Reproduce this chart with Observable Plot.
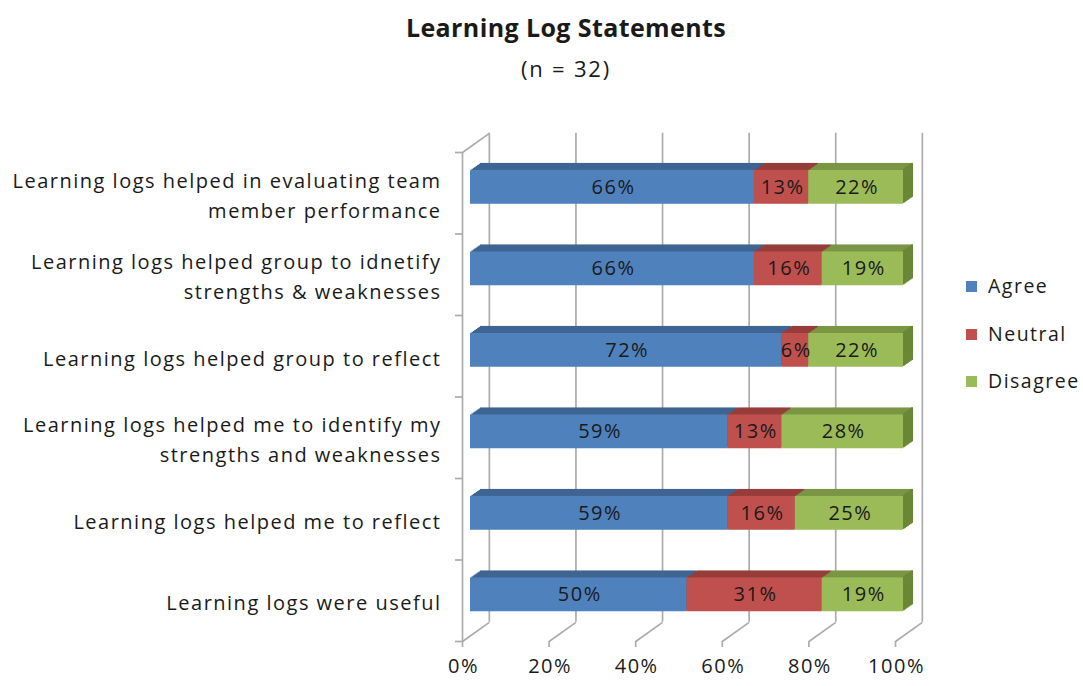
<!DOCTYPE html>
<html>
<head>
<meta charset="utf-8">
<script src="https://cdn.jsdelivr.net/npm/d3@7"></script>
<script src="https://cdn.jsdelivr.net/npm/@observablehq/plot@0.6"></script>
<style>
  body { margin: 0; background: #fff; font-family: "Open Sans", sans-serif; color: #1a1a1a; }
  #wrap { position: relative; width: 1083px; height: 686px; overflow: hidden; }
  #head { height: 100px; position: relative; }
  #title { position: absolute; left: 566px; top: 10px; transform: translateX(-50%); font-weight: bold; font-size: 25px; letter-spacing: 0.4px; white-space: nowrap; }
  #sub { position: absolute; left: 566px; top: 53px; transform: translateX(-50%); font-size: 22px; letter-spacing: 1.8px; white-space: nowrap; }
  #legend { position: absolute; left: 966px; top: 272px; font-size: 19.5px; letter-spacing: 1.5px; }
  .li { position: relative; height: 47.5px; }
  .sw { position: absolute; left: 0; top: 9px; width: 11px; height: 11px; }
  .lt { position: absolute; left: 22px; top: 0; line-height: 28px; }
  svg g[font-size="20"] { letter-spacing: 1.5px; }
</style>
</head>
<body>
<div id="wrap">
  <div id="head">
    <div id="title">Learning Log Statements</div>
    <div id="sub">(n = 32)</div>
  </div>
  <div id="chart"></div>
  <div id="legend"></div>
</div>
<script>
// ---- data ----
const categories = [
  "Learning logs helped in evaluating team\nmember performance",
  "Learning logs helped group to idnetify\nstrengths & weaknesses",
  "Learning logs helped group to reflect",
  "Learning logs helped me to identify my\nstrengths and weaknesses",
  "Learning logs helped me to reflect",
  "Learning logs were useful"
];
const answers = ["Agree", "Neutral", "Disagree"];
const agree    = [65.6, 65.6, 71.9, 59.4, 59.4, 50.0];
const neutral  = [12.5, 15.6, 6.2, 12.5, 15.6, 31.2];
const disagree = [21.9, 18.8, 21.9, 28.1, 25.0, 18.8];
const xTicks = [0, 20, 40, 60, 80, 100];
const xTickLabels = ["0%", "20%", "40%", "60%", "80%", "100%"];

// ---- styling ----
const frontColor = {Agree: "#4F81BD", Neutral: "#C0504D", Disagree: "#9BBB59"};
const topColor   = {Agree: "#3E6594", Neutral: "#963D3B", Disagree: "#7A9645"};
const sideColor  = "#6A8736";
const gridColor  = "#acacac";
const FONT = '"Open Sans", sans-serif';

// bar thickness inside each category band (band units)
const BAR_Y1 = 0.22, BAR_Y2 = 0.635;
// 3D depth of the back wall (x in % units, y in band units)
const DX = 6.2, DY = 0.235;
// bar depth in pixels
const BDX = 10, BDY = 7, STEPS = 7;
const FLOOR_DX = -8;

// tidy table
const rows = [];
categories.forEach((c, i) => {
  let s = 0;
  [agree, neutral, disagree].forEach((arr, k) => {
    rows.push({cat: c, i, answer: answers[k], value: arr[i], x1: s, x2: s + arr[i]});
    s += arr[i];
  });
});
const lastRows = rows.filter(d => d.answer === "Disagree");
const idx = d3.range(categories.length);

const marks = [];
// back wall gridlines
marks.push(Plot.ruleX(xTicks, {x: d => d + DX, y1: categories.length - DY, y2: -DY, dx: FLOOR_DX, stroke: gridColor, strokeWidth: 1.7}));
// floor diagonals
marks.push(Plot.link(xTicks, {x1: d => d, y1: categories.length, x2: d => d + DX, y2: categories.length - DY, dx: FLOOR_DX, stroke: gridColor, strokeWidth: 1.7}));
// floor tick marks
marks.push(Plot.ruleX(xTicks, {x: d => d, y1: categories.length, y2: categories.length, insetBottom: -6, dx: FLOOR_DX, stroke: gridColor, strokeWidth: 1.7}));
// left wall
marks.push(Plot.ruleX([0], {x: d => d, y1: 0, y2: categories.length, dx: FLOOR_DX, stroke: gridColor, strokeWidth: 1.7}));
marks.push(Plot.link([0], {x1: d => d, y1: 0, x2: d => d + DX, y2: -DY, dx: FLOOR_DX, stroke: gridColor, strokeWidth: 1.7}));
marks.push(Plot.ruleY(d3.range(categories.length + 1), {y: d => d, x1: 0, x2: 0, insetLeft: -7, dx: FLOOR_DX, stroke: gridColor, strokeWidth: 1.7}));

// bar tops (stepped parallelogram)
for (let k = STEPS; k >= 1; k--) {
  marks.push(Plot.rect(rows, {
    x1: "x1", x2: "x2", y1: d => d.i + BAR_Y1, y2: d => d.i + BAR_Y2,
    fill: d => topColor[d.answer], dx: k * BDX / STEPS, dy: -k * BDY / STEPS
  }));
}
// bar right side
for (let k = STEPS; k >= 1; k--) {
  marks.push(Plot.rect(lastRows, {
    x1: "x2", x2: "x2", y1: d => d.i + BAR_Y1, y2: d => d.i + BAR_Y2, insetLeft: -2,
    fill: sideColor, dx: k * BDX / STEPS, dy: -k * BDY / STEPS
  }));
}
// bar fronts
marks.push(Plot.rect(rows, {
  x1: "x1", x2: "x2", y1: d => d.i + BAR_Y1, y2: d => d.i + BAR_Y2,
  fill: d => frontColor[d.answer]
}));
// value labels
marks.push(Plot.text(rows, {
  x: d => (d.x1 + d.x2) / 2, y: d => d.i + (BAR_Y1 + BAR_Y2) / 2,
  text: d => Math.round(d.value) + "%", fill: "#1a1a1a", fontSize: 20, dx: 1
}));
// category labels
marks.push(Plot.text(idx, {
  x: 0, y: d => d + 0.5, text: d => categories[d], textAnchor: "end",
  dx: -29, fill: "#1a1a1a", fontSize: 20, lineHeight: 1.5
}));
// x tick labels
marks.push(Plot.text(xTicks, {
  x: d => d, y: categories.length, text: (d, i) => xTickLabels[i],
  dx: FLOOR_DX + 1, dy: 25, fill: "#1a1a1a", fontSize: 20
}));

const chart = Plot.plot({
  width: 1083,
  height: 586,
  marginLeft: 470,
  marginRight: 180,
  marginTop: 52,
  marginBottom: 45,
  style: {fontFamily: FONT, background: "white", overflow: "visible"},
  x: {domain: [0, 100], axis: null},
  y: {domain: [0, categories.length], reverse: true, axis: null},
  color: {type: "identity"},
  marks
});
document.getElementById("chart").appendChild(chart);

// legend
const legend = document.getElementById("legend");
answers.forEach(a => {
  const li = document.createElement("div");
  li.className = "li";
  li.innerHTML = `<div class="sw" style="background:${frontColor[a]}"></div><div class="lt">${a}</div>`;
  legend.appendChild(li);
});
</script>
</body>
</html>
